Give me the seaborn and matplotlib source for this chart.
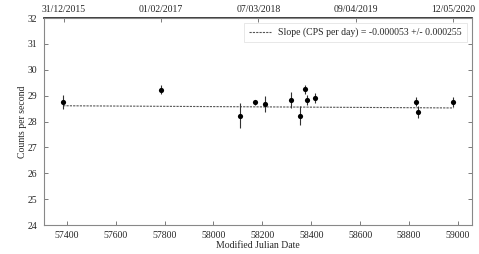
import numpy as np
import pandas as pd
import matplotlib
matplotlib.use("Agg")
import matplotlib.pyplot as plt
import seaborn as sns

# data
mjd = [57385, 57784, 58107, 58171, 58212, 58318, 58355, 58373, 58383, 58414, 58830, 58836, 58982]
cps = [28.74, 29.23, 28.23, 28.74, 28.68, 28.84, 28.22, 29.24, 28.82, 28.91, 28.77, 28.38, 28.74]
cps_err = [0.27, 0.18, 0.49, 0.10, 0.30, 0.31, 0.37, 0.19, 0.19, 0.19, 0.18, 0.23, 0.19]

fit_slope = -0.000053
fit_slope_err = 0.000255
fit_value_at_start = 28.61

top_dates = ["31/12/2015", "01/02/2017", "07/03/2018", "09/04/2019", "12/05/2020"]

df = pd.DataFrame({"mjd": mjd, "cps": cps, "err": cps_err})

sns.set_theme(style="ticks")
plt.rcParams["font.family"] = ["Liberation Serif", "DejaVu Serif"]

fig, ax = plt.subplots(figsize=(4.79, 2.54), dpi=100)
fig.subplots_adjust(left=0.092, right=0.985, top=0.929, bottom=0.114)

# linear fit line across the data range
fit_x = np.array([df.mjd.min(), df.mjd.max()])
fit_y = fit_value_at_start + fit_slope * (fit_x - fit_x[0])
sns.lineplot(x=fit_x, y=fit_y, ax=ax, color="#555555", lw=0.8,
             linestyle=(0, (2, 1)),
             label=f"Slope (CPS per day) = {fit_slope:.6f} +/- {fit_slope_err:.6f}")

ax.errorbar(df.mjd, df.cps, yerr=df.err, fmt="none", ecolor="#333333",
            elinewidth=0.8, capsize=0)
sns.scatterplot(data=df, x="mjd", y="cps", ax=ax, color="black", s=14,
                edgecolor="black", linewidth=0, zorder=3)

ax.set_xlim(57307, 59057)
ax.set_ylim(24, 32)
ax.set_xticks(np.arange(57400, 59001, 200))
ax.set_yticks(np.arange(24, 33, 1))
ax.set_xlabel("Modified Julian Date", fontsize=7, labelpad=1)
ax.set_ylabel("Counts per second", fontsize=7, labelpad=0)
ax.tick_params(direction="in", length=3, width=0.6, labelsize=7,
               top=False, right=True, color="#666666", pad=5)
ax.tick_params(axis="x", pad=4)

for sp in ax.spines.values():
    sp.set_color("#888888")
    sp.set_linewidth(0.8)

# top axis with calendar dates
top_mjd = [(pd.to_datetime(d, dayfirst=True) - pd.Timestamp("1858-11-17")).days
           for d in top_dates]
sec = ax.secondary_xaxis("top")
sec.set_xticks(top_mjd)
sec.set_xticklabels(top_dates)
sec.tick_params(direction="in", length=3, width=0.6, labelsize=7,
                color="#666666", pad=3)

leg = ax.legend(loc="upper right", fontsize=7, frameon=True, fancybox=False,
                handlelength=2.2, borderpad=0.5)
leg.get_frame().set_edgecolor("#dddddd")
leg.get_frame().set_linewidth(0.6)

fig.savefig("out.png", dpi=100)
